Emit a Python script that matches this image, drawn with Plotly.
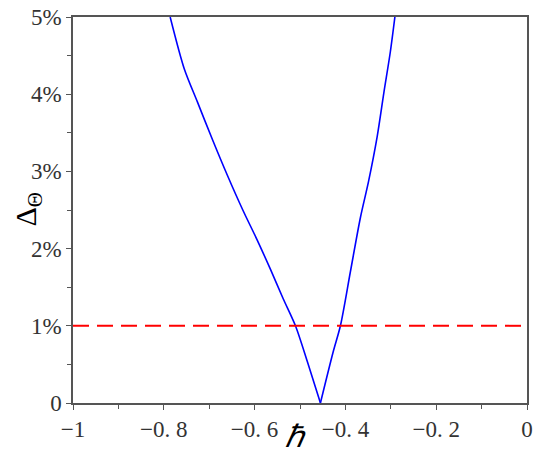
import plotly.graph_objects as go

# left branch of the curve (hbar, Delta)
hbar_left = [-0.786, -0.755, -0.726, -0.692, -0.660, -0.626, -0.595, -0.565, -0.537, -0.510, -0.483, -0.455]
delta_left = [0.0500, 0.0433, 0.0390, 0.0340, 0.0295, 0.0250, 0.0212, 0.0173, 0.0135, 0.0100, 0.0052, 0.0]

# right branch
hbar_right = [-0.455, -0.427, -0.411, -0.389, -0.367, -0.349, -0.330, -0.315, -0.301, -0.291]
delta_right = [0.0, 0.0066, 0.0100, 0.0170, 0.0240, 0.0287, 0.0345, 0.0403, 0.0455, 0.0500]

threshold = 0.01

x_ticks = [-1, -0.8, -0.6, -0.4, -0.2, 0]
x_labels = ["−1", "−0. 8", "−0. 6", "−0. 4", "−0. 2", "0"]
y_ticks = [0, 0.01, 0.02, 0.03, 0.04, 0.05]
y_labels = ["0", "1%", "2%", "3%", "4%", "5%"]

fig = go.Figure()

for xs, ys in [(hbar_left, delta_left), (hbar_right, delta_right)]:
    fig.add_trace(go.Scatter(
        x=xs, y=ys,
        mode="lines",
        line=dict(color="#0000ff", width=1.6, shape="spline", smoothing=0.8),
        showlegend=False,
    ))

fig.add_trace(go.Scatter(
    x=[-1, 0],
    y=[threshold, threshold],
    mode="lines",
    line=dict(color="#ff0000", width=2, dash="16px,8px"),
    showlegend=False,
))

axis_common = dict(
    showgrid=False,
    zeroline=False,
    showline=True,
    linecolor="#555555",
    linewidth=1.5,
    mirror=True,
    ticks="outside",
    ticklen=5,
    tickwidth=1,
    tickcolor="#555555",
    automargin=False,
    ticklabeloverflow="allow",
    tickfont=dict(family="Liberation Serif, serif", size=23, color="#333333"),
)

fig.update_xaxes(
    range=[-1, 0],
    tickvals=x_ticks,
    ticktext=x_labels,
    minor=dict(dtick=0.1, ticks="outside", ticklen=4, tickcolor="#555555"),
    **axis_common,
)
fig.update_yaxes(
    range=[0, 0.05],
    tickvals=y_ticks,
    ticktext=y_labels,
    minor=dict(dtick=0.005, ticks="outside", ticklen=4, tickcolor="#555555"),
    **axis_common,
)

# axis titles placed by hand to sit where the original has them
fig.add_annotation(
    text="<i>ℏ</i>", xref="paper", yref="paper", x=0.49, y=-0.088,
    xanchor="center", yanchor="middle",
    showarrow=False, font=dict(family="Liberation Serif, serif", size=31, color="#000000"),
)
fig.add_annotation(
    text="Δ<sub>Θ</sub>", xref="paper", yref="paper", x=-0.1, y=0.5,
    xanchor="center", yanchor="middle",
    textangle=-90, showarrow=False,
    font=dict(family="Liberation Serif, serif", size=30, color="#000000"),
)

# the page body adds an 8px margin, so the figure is sized to fit the window
fig.update_layout(
    width=542,
    height=457,
    margin=dict(l=65, r=23, t=9, b=62),
    plot_bgcolor="white",
    paper_bgcolor="white",
)

fig.write_html("out.html")
